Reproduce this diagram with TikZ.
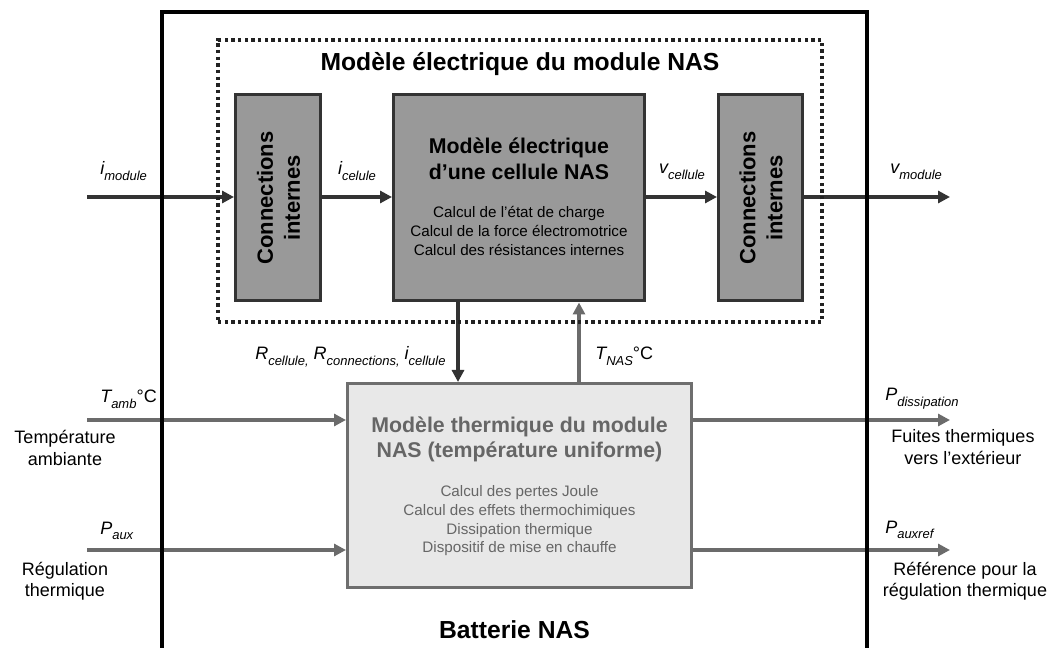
\documentclass[tikz,border=0pt]{standalone}
\usepackage{fontspec}
\setmainfont{Liberation Sans}
\usetikzlibrary{arrows.meta}
\definecolor{boxfill}{HTML}{999999}
\definecolor{boxline}{HTML}{333333}
\definecolor{thfill}{HTML}{E8E8E8}
\definecolor{thline}{HTML}{6E6E6E}
\definecolor{thtext}{HTML}{666666}
\definecolor{darr}{HTML}{333333}
\definecolor{garr}{HTML}{6B6B6B}
\definecolor{dotcol}{HTML}{222222}
\newcommand\lsub[1]{\raisebox{-4pt}{\fontsize{9.75}{11}\selectfont\itshape #1}}
\newcommand\mlines[1]{\begin{tabular}[t]{@{}c@{}}#1\end{tabular}}
\tikzset{
  darkbox/.style={draw=boxline, fill=boxfill, line width=2.25pt, inner sep=0pt},
  thbox/.style={draw=thline, fill=thfill, line width=2.25pt, inner sep=0pt},
  elecframe/.style={draw=dotcol, line width=2.6pt, dash pattern=on 2.6pt off 2.4pt, inner sep=0pt},
  outerframe/.style={draw=black, line width=3pt},
  darrow/.style={draw=darr, line width=3pt, -{Triangle[length=9pt,width=9pt]}},
  garrow/.style={draw=garr, line width=3pt, -{Triangle[length=9pt,width=9pt]}},
  lbl/.style={inner sep=0pt, font=\fontsize{13.5}{16}\selectfont},
  bigtitle/.style={inner sep=0pt, font=\fontsize{18.5}{22}\selectfont\bfseries},
  boxtitle/.style={inner sep=0pt, font=\fontsize{16}{19.5}\selectfont\bfseries},
  boxbody/.style={inner sep=0pt, font=\fontsize{11.4}{14.25}\selectfont},
  conntext/.style={inner sep=0pt, rotate=90, font=\fontsize{16.5}{20.25}\selectfont\bfseries},
}
\begin{document}
\begin{tikzpicture}[x=0.75pt,y=-0.75pt]
\useasboundingbox (0,0) rectangle (1050,648);

% blocks
\node[darkbox, minimum width=63.75pt, minimum height=154.5pt] (lc) at (278,198) {};
\node[darkbox, minimum width=188.25pt, minimum height=154.5pt] (cell) at (519,198) {};
\node[darkbox, minimum width=63pt, minimum height=154.5pt] (rc) at (760.5,198) {};
\node[thbox, minimum width=258pt, minimum height=153pt] (therm) at (519.5,485.5) {};

% texts in blocks
\node[conntext] (lctext) at (281,198) {\mlines{Connections\\internes}};
\node[conntext] (rctext) at (763.5,198) {\mlines{Connections\\internes}};
\node[boxtitle, anchor=base] (celltitle) at (519,154) {\mlines{Modèle électrique\\d’une cellule NAS}};
\node[boxbody, anchor=base] (cellbody) at (519,218) {\mlines{Calcul de l’état de charge\\Calcul de la force électromotrice\\Calcul des résistances internes}};
\node[boxtitle, anchor=base, text=thtext, font=\fontsize{16}{18.75}\selectfont\bfseries] (thtitle) at (519.5,433) {\mlines{Modèle thermique du module\\NAS (température uniforme)}};
\node[boxbody, anchor=base, text=thtext, font=\fontsize{11.4}{14}\selectfont] (thbody) at (519.5,497) {\mlines{Calcul des pertes Joule\\Calcul des effets thermochimiques\\Dissipation thermique\\Dispositif de mise en chauffe}};

% connector end points
\coordinate (imodin) at (87,197);
\coordinate (vmodout) at (950,197);
\coordinate (xd) at (458,0);
\coordinate (xu) at (579,0);
\coordinate (tambin) at (87,420);
\coordinate (pauxin) at (87,550);
\coordinate (pdissout) at (950,420);
\coordinate (prefout) at (950,550);

% electrical connectors
\draw[darrow] (imodin) -- (imodin -| lc.west);
\draw[darrow] (imodin -| lc.east) -- (imodin -| cell.west);
\draw[darrow] (imodin -| cell.east) -- (imodin -| rc.west);
\draw[darrow] (vmodout -| rc.east) -- (vmodout);
\draw[darrow] (cell.south -| xd) -- (therm.north -| xd);
\draw[garrow] (therm.north -| xu) -- (cell.south -| xu);

% thermal connectors
\draw[garrow] (tambin) -- (tambin -| therm.west);
\draw[garrow] (pauxin) -- (pauxin -| therm.west);
\draw[garrow] (pdissout -| therm.east) -- (pdissout);
\draw[garrow] (prefout -| therm.east) -- (prefout);

% labels
\node[lbl, anchor=base west] (limod) at (100,175) {\itshape i\lsub{module}};
\node[lbl, anchor=base] (licel) at (357,175) {\itshape i\lsub{celule}};
\node[lbl, anchor=base] (lvcel) at (682,174) {\itshape v\lsub{cellule}};
\node[lbl, anchor=base west] (lvmod) at (890,174) {\itshape v\lsub{module}};
\node[lbl, anchor=base west] (lR) at (255,360) {\itshape R\lsub{cellule,} R\lsub{connections,} i\lsub{cellule}};
\node[lbl, anchor=base west] (lTnas) at (595,360) {{\itshape T}\lsub{NAS}°C};
\node[lbl, anchor=base west] (lTamb) at (100,403) {{\itshape T}\lsub{amb}°C};
\node[lbl, anchor=base west] (lPaux) at (100,534) {{\itshape P}\lsub{aux}};
\node[lbl, anchor=base west] (lPdiss) at (885,401) {{\itshape P}\lsub{dissipation}};
\node[lbl, anchor=base west] (lPref) at (885,533) {{\itshape P}\lsub{auxref}};
\node[lbl, anchor=base] (ltemp) at (65,444) {\mlines{Température\\ambiante}};
\node[lbl, anchor=base] (lreg) at (65,575) {\mlines{Régulation\\thermique}};
\node[lbl, anchor=base] (lfuite) at (963,443) {\mlines{Fuites thermiques\\vers l’extérieur}};
\node[lbl, anchor=base] (lref) at (965,575) {\mlines{Référence pour la\\régulation thermique}};

% frames
\node[elecframe, minimum width=453pt, minimum height=211.5pt] (elec) at (520,181) {};
\node[bigtitle, anchor=base] (electitle) at (520,71) {Modèle électrique du module NAS};
\draw[outerframe] (162,648) -- (162,12) -- (867,12) -- (867,648);
\node[bigtitle, anchor=base] (battitle) at (514.5,638) {Batterie NAS};
\end{tikzpicture}
\end{document}
